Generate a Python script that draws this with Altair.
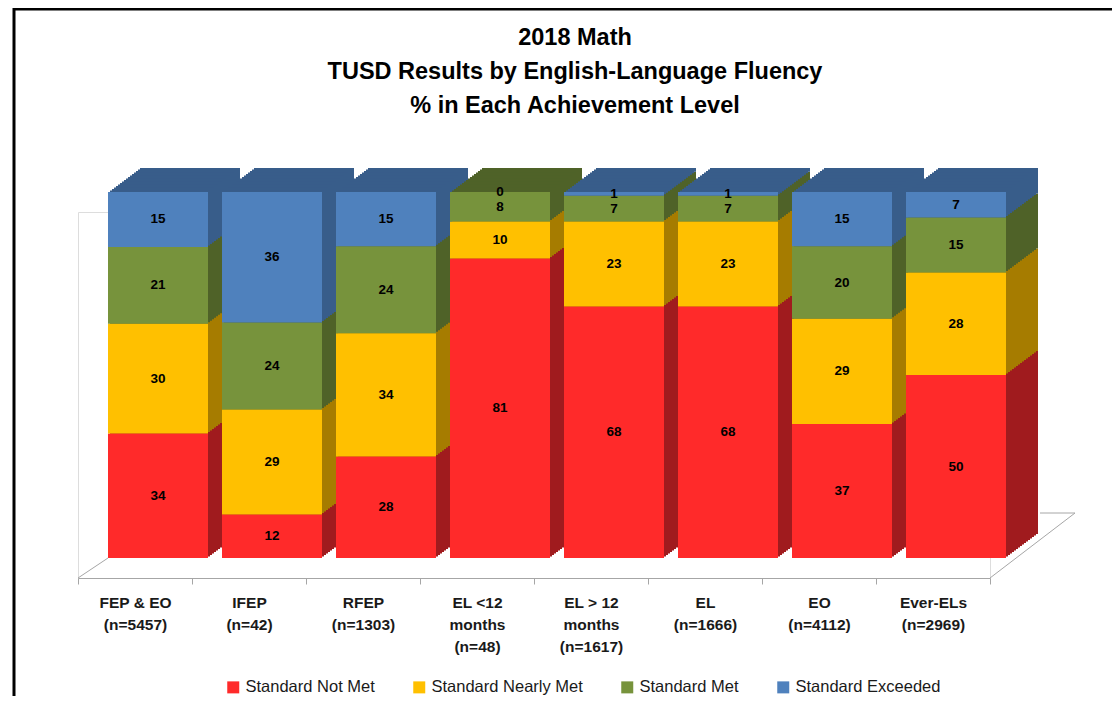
import altair as alt
import pandas as pd

categories = ["FEP & EO|(n=5457)", "IFEP|(n=42)", "RFEP|(n=1303)", "EL <12|months|(n=48)",
              "EL > 12|months|(n=1617)", "EL|(n=1666)", "EO|(n=4112)", "Ever-ELs|(n=2969)"]
levels = ["Standard Not Met", "Standard Nearly Met", "Standard Met", "Standard Exceeded"]
not_met = [34, 12, 28, 81, 68, 68, 37, 50]
nearly_met = [30, 29, 34, 10, 23, 23, 29, 28]
met = [21, 24, 24, 8, 7, 7, 20, 15]
exceeded = [15, 36, 15, 0, 1, 1, 15, 7]
title_lines = ["2018 Math", "TUSD Results by English-Language Fluency", "% in Each Achievement Level"]

front_colors = ["#FF2A2A", "#FFC000", "#77933C", "#4F81BD"]
side_colors = ["#A01B1E", "#A67C00", "#4F6228", "#385D8A"]

series = [not_met, nearly_met, met, exceeded]
rows = []
for li, (lev, vals) in enumerate(zip(levels, series)):
    for ci, cat in enumerate(categories):
        rows.append({"cat": cat, "level": lev, "order": li, "value": vals[ci],
                     "side": side_colors[li]})
df = pd.DataFrame(rows)

FONT = "Liberation Sans"
W, H = 912, 366
DX, DY = 23, 20      # front face depth offset
SX, SY = 32, 24      # 3D extrusion
N = 16

base = alt.Chart(df).transform_stack(
    stack="value", groupby=["cat"], as_=["y0", "y1"], offset="normalize",
    sort=[alt.SortField("order", order="ascending")]
)

xenc = alt.X("cat:N", sort=categories,
             scale=alt.Scale(paddingInner=0, paddingOuter=0),
             axis=alt.Axis(title=None, labelAngle=0, tickBand="extent",
                           labelExpr="split(datum.label, '|')",
                           labelFont=FONT, labelFontSize=15.5, labelFontWeight="bold",
                           labelColor="#1a1a1a", labelLineHeight=22, labelPadding=11,
                           labelOffset=0, domainColor="#A6A6A6", tickColor="#A6A6A6",
                           tickSize=6, labelBaseline="top"))
yenc = alt.Y("y0:Q", scale=alt.Scale(domain=[0, 1]), axis=None)

layers = []
for k in range(N, 0, -1):
    ox, oy = DX + SX * k / N, -DY - SY * k / N
    layers.append(base.mark_bar(size=100, xOffset=ox, x2Offset=ox, yOffset=oy, y2Offset=oy).encode(
        x=xenc, y=yenc, y2="y1:Q",
        color=alt.Color("side:N", scale=None)))

front = base.mark_bar(size=100, xOffset=DX, x2Offset=DX, yOffset=-DY, y2Offset=-DY).encode(
    x=xenc, y=yenc, y2="y1:Q",
    color=alt.Color("level:N", sort=levels,
                    scale=alt.Scale(domain=levels, range=front_colors),
                    legend=alt.Legend(title=None, orient="none", direction="horizontal",
                                      legendX=147, legendY=467, columns=4,
                                      symbolType="M-1,-1H1V1H-1Z", symbolSize=144,
                                      symbolStrokeWidth=0, labelFont=FONT, labelFontSize=16.5,
                                      labelLimit=400,
                                      labelColor="#1a1a1a", columnPadding=36, symbolOffset=0,
                                      labelOffset=4)))

labels = base.transform_calculate(mid="(datum.y0 + datum.y1) / 2").mark_text(
    font=FONT, fontSize=13.5, fontWeight="bold", color="black", xOffset=DX, yOffset=-DY,
    baseline="middle").encode(
    x=alt.X("cat:N", sort=categories),
    y=alt.Y("mid:Q", scale=alt.Scale(domain=[0, 1]), axis=None), text="value:Q")

deco = pd.DataFrame({"d": [0]})
def rule(x, y, x2, y2, color="#A6A6A6", w=1):
    return alt.Chart(deco).mark_rule(color=color, strokeWidth=w).encode(
        x=alt.value(x), y=alt.value(y), x2=alt.value(x2), y2=alt.value(y2))

floor = [rule(0, H, 30, H - 20), rule(W, H, W + 85, H - 65), rule(W + 50, H - 65, W + 85, H - 65)]
frame = [rule(-64, -203, W + 200, -203, color="black", w=3),
         rule(-64, -204, -64, H + 200, color="black", w=3)]

title = alt.Chart(deco).mark_text(
    text=title_lines, font=FONT, fontSize=23.5, fontWeight="bold", color="black",
    lineHeight=34, align="center", baseline="middle"
).encode(x=alt.value(497), y=alt.value(-174))

chart = alt.layer(*floor, *layers, front, labels, *frame, title).resolve_scale(
    color="independent"
).properties(
    width=W, height=H,
    autosize=alt.AutoSizeParams(type="none"),
    padding={"left": 70, "top": 204, "right": 122, "bottom": 118},
).configure_view(stroke="transparent", strokeWidth=0).configure(background="white")

chart.save("out.html", embed_options={"renderer": "svg", "actions": False})
